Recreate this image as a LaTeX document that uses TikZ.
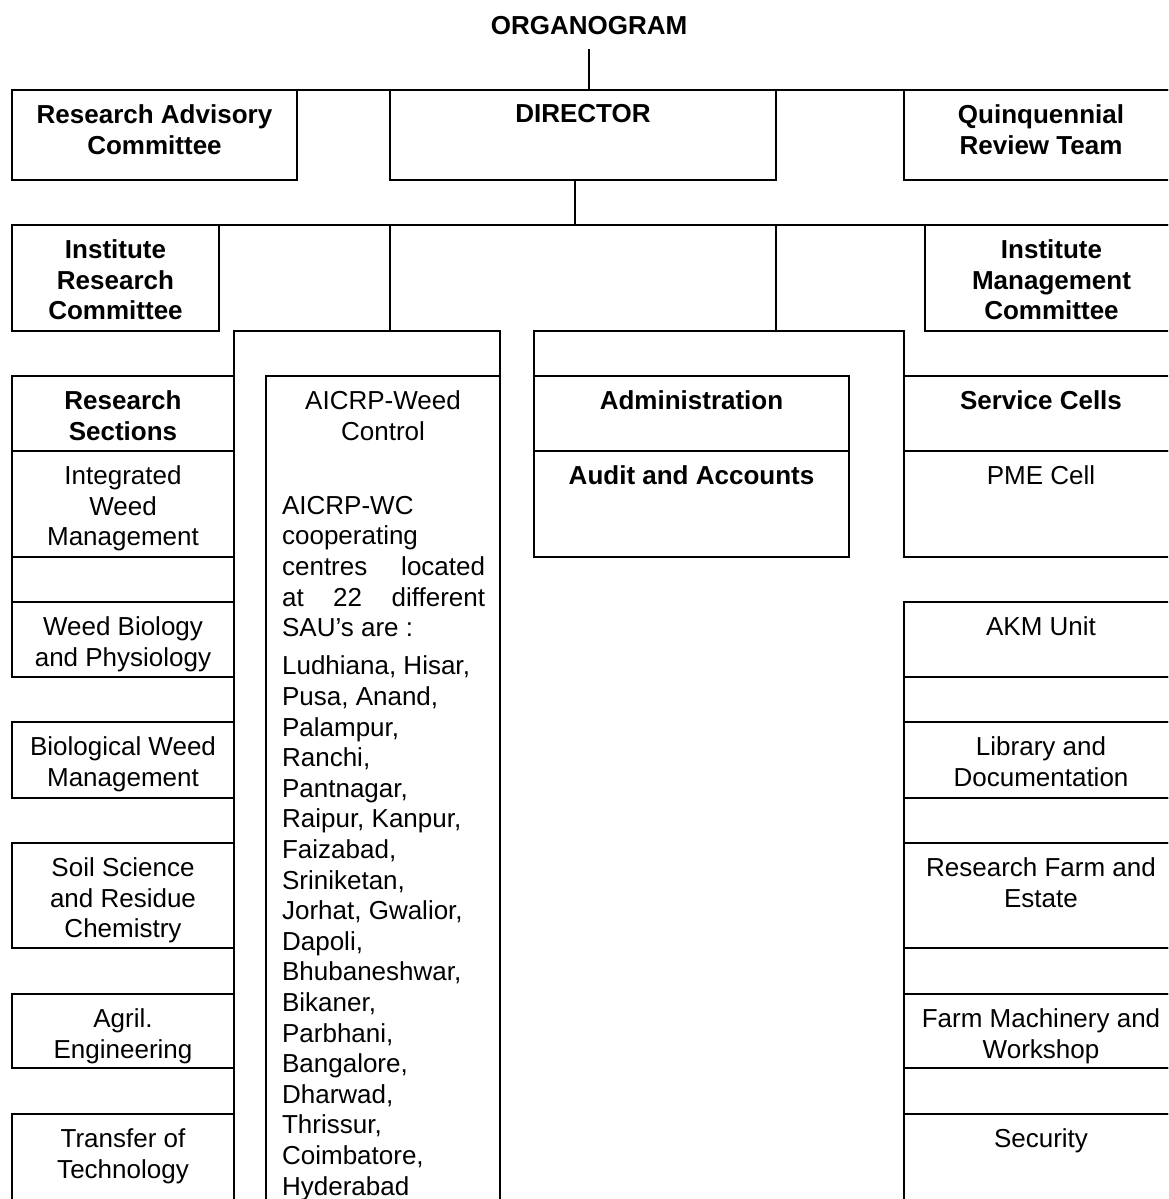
\documentclass[tikz,border=0pt]{standalone}
\usepackage{fontspec}
\setmainfont{Liberation Sans}
\newcommand\cellrect[5]{\node[cellbox, minimum width={(#4-#2)*0.5pt}, minimum height={(#5-#3)*0.5pt}] (#1) at ({(#2+#4)/2},{(#3+#5)/2}) {};}
\newcommand\celltext[3][txt]{\node[#1] (#2t) at ([yshift=-6.75pt]#2.north) {#3};}
\newcommand\jline[1]{\makebox[101.5pt][s]{#1}}
\begin{document}
\begin{tikzpicture}[x=0.5pt, y=-0.5pt, line width=1.1pt, line cap=rect,
  cellbox/.style={draw, inner sep=0pt, outer sep=0pt, line width=1.1pt},
  txt/.style={anchor=north, inner sep=0pt, align=center, font=\fontsize{13pt}{15.3pt}\selectfont},
  btxt/.style={txt, font=\fontsize{13pt}{15.3pt}\selectfont\bfseries},
  ltxt/.style={anchor=north west, inner sep=0pt, align=left, font=\fontsize{13pt}{15.3pt}\selectfont}]
\useasboundingbox (0,0) rectangle (1168,1199);
\begin{scope}
\clip (0,0) rectangle (1168,1199);
% title
\node[btxt] (title) at (589,15) {ORGANOGRAM};
% row 1
\cellrect{rac}{12}{90}{297}{180}
\cellrect{dir}{390}{90}{776}{180}
\cellrect{qrt}{904}{90}{1178}{180}
\draw (rac.north west) -- (qrt.north east);
\celltext[btxt]{rac}{Research Advisory\\Committee}
\celltext[btxt]{dir}{DIRECTOR}
\celltext[btxt]{qrt}{Quinquennial\\Review Team}
% row 2
\cellrect{irc}{12}{225}{219}{331}
\cellrect{imc}{925}{225}{1178}{331}
\draw (irc.north west) -- (imc.north east);
\celltext[btxt]{irc}{Institute\\Research\\Committee}
\celltext[btxt]{imc}{Institute\\Management\\Committee}
\coordinate (row2) at (575,225);
\coordinate (ml) at (390,225);
\coordinate (mr) at (776,225);
\coordinate (ba) at (234,331);
\coordinate (bb) at (904,331);
% connectors
\draw ([yshift=-7pt]title.south) -- (title.south |- dir.north);
\draw (row2 |- dir.south) -- (row2);
% left research column
\cellrect{rs}{12}{376}{234}{451}
\cellrect{iwm}{12}{451}{234}{557}
\cellrect{lb1}{12}{557}{234}{602}
\cellrect{wbp}{12}{602}{234}{677}
\cellrect{bwm}{12}{722}{234}{798}
\cellrect{ssr}{12}{843}{234}{948}
\cellrect{agr}{12}{994}{234}{1068}
\cellrect{tot}{12}{1114}{234}{1215}
\celltext[btxt]{rs}{Research\\Sections}
\celltext{iwm}{Integrated\\Weed\\Management}
\celltext{wbp}{Weed Biology\\and Physiology}
\celltext{bwm}{Biological Weed\\Management}
\celltext{ssr}{Soil Science\\and Residue\\Chemistry}
\celltext{agr}{Agril.\\Engineering}
\celltext{tot}{Transfer of\\Technology}
% AICRP
\cellrect{aicrp}{266}{376}{500}{1215}
\celltext{aicrp}{AICRP-Weed\\Control}
\node[ltxt] (para) at (281,495) {AICRP-WC\\cooperating\\\jline{centres located}\\\jline{at 22 different}\\SAU’s are :};
\node[ltxt] (list) at (281,655) {Ludhiana, Hisar,\\Pusa, Anand,\\Palampur,\\Ranchi,\\Pantnagar,\\Raipur, Kanpur,\\Faizabad,\\Sriniketan,\\Jorhat, Gwalior,\\Dapoli,\\Bhubaneshwar,\\Bikaner,\\Parbhani,\\Bangalore,\\Dharwad,\\Thrissur,\\Coimbatore,\\Hyderabad};
% administration
\cellrect{adm}{534}{376}{849}{451}
\cellrect{aud}{534}{451}{849}{557}
\celltext[btxt]{adm}{Administration}
\celltext[btxt]{aud}{Audit and Accounts}
% service cells
\cellrect{sc}{904}{376}{1178}{451}
\cellrect{pme}{904}{451}{1178}{557}
\cellrect{akm}{904}{602}{1178}{677}
\cellrect{rb1}{904}{677}{1178}{722}
\cellrect{lib}{904}{722}{1178}{798}
\cellrect{rb2}{904}{798}{1178}{843}
\cellrect{rfe}{904}{843}{1178}{948}
\cellrect{rb3}{904}{948}{1178}{994}
\cellrect{fmw}{904}{994}{1178}{1068}
\cellrect{rb4}{904}{1068}{1178}{1114}
\cellrect{sec}{904}{1114}{1178}{1215}
\celltext[btxt]{sc}{Service Cells}
\celltext{pme}{PME Cell}
\celltext{akm}{AKM Unit}
\celltext{lib}{Library and\\Documentation}
\celltext{rfe}{Research Farm and\\Estate}
\celltext{fmw}{Farm Machinery and\\Workshop}
\celltext{sec}{Security}
% branch lines
\draw (ml) -- (ml |- ba);
\draw (mr) -- (mr |- bb);
\draw (ba |- tot.south) -- (ba) -- (aicrp.north east |- ba) -- (aicrp.north east);
\draw (adm.north west) -- (adm.north west |- bb) -- (bb) -- (sc.north west);
\end{scope}
\end{tikzpicture}
\end{document}
